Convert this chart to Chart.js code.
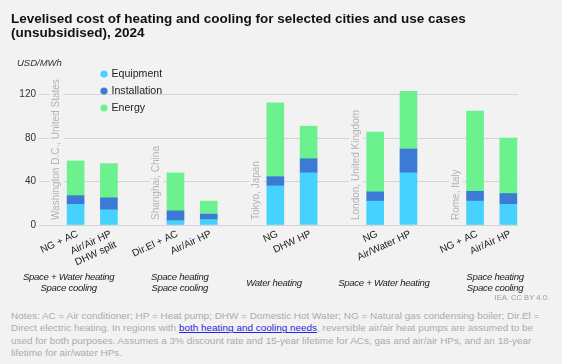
<!DOCTYPE html>
<html>
<head>
<meta charset="utf-8">
<script src="https://cdn.jsdelivr.net/npm/chart.js@4.4.1/dist/chart.umd.min.js"></script>
<style>
  html, body { margin: 0; padding: 0; background: #f2f2f2; }
  #wrap { position: relative; width: 562px; height: 364px; overflow: hidden; }
  #box { position: absolute; left: 0; top: 0; width: 562px; height: 305px; }
  #notes {
    position: absolute; left: 11px; top: 310px;
    font: 9.95px 'Liberation Sans', Arial, sans-serif; color: #ababab;
    line-height: 12.4px; white-space: nowrap;
  }
  #notes a { color: #2626d9; }
</style>
</head>
<body>
<div id="wrap">
  <div id="box"><canvas id="lcoeChart"></canvas></div>
  <div id="notes">
    Notes: AC = Air conditioner; HP = Heat pump; DHW = Domestic Hot Water; NG = Natural gas condensing boiler; Dir.El =<br>
    Direct electric heating. In regions with <a href="#">both heating and cooling needs</a>, reversible air/air heat pumps are assumed to be<br>
    used for both purposes. Assumes a 3% discount rate and 15-year lifetime for ACs, gas and air/air HPs, and an 18-year<br>
    lifetime for air/water HPs.
  </div>
</div>
<script>
// values (USD/MWh)
const techLabels = ['NG + AC', ['Air/Air HP', 'DHW split'], 'Dir.El + AC', 'Air/Air HP', 'NG', 'DHW HP', 'NG', 'Air/Water HP', 'NG + AC', 'Air/Air HP'];
const cities = ['Washington D.C., United States', 'Shanghai, China', 'Tokyo, Japan', 'London, United Kingdom', 'Rome, Italy'];
const useCases = [['Space + Water heating', 'Space cooling'], ['Space heating', 'Space cooling'], ['Water heating'], ['Space + Water heating'], ['Space heating', 'Space cooling']];
const equipment = [19, 14, 4, 5, 36, 48, 22, 48, 22, 19];
const installation = [8, 11, 9, 5, 8.5, 13, 8.5, 22, 9, 10];
const energy = [32, 31.5, 35, 12, 68, 30, 55, 53, 74, 51];
const yTicks = [0, 40, 80, 120];

// two bars per city, one empty slot between cities
const slot = i => i + Math.floor(i / 2);
const useCaseAt = [-0.21, 3.13, 5.96, 9.26, 12.6];

const BG = '#f2f2f2';
const SANS = "'Liberation Sans', Arial, sans-serif";

const toPoints = arr => arr.map((v, i) => ({ x: slot(i), y: v }));

const lcoeExtras = {
  id: 'lcoeExtras',
  beforeDatasetsDraw(chart) {
    const { ctx, scales: { x, y } } = chart;
    ctx.save();
    ctx.font = '10px ' + SANS;
    ctx.textBaseline = 'middle';
    ctx.textAlign = 'left';
    cities.forEach((name, c) => {
      const px = x.getPixelForValue(slot(c * 2) - 0.57);
      const bottom = y.getPixelForValue(0) - 5;
      const w = ctx.measureText(name).width;
      ctx.fillStyle = BG;
      ctx.fillRect(px - 7, bottom - w - 2, 14, w + 4);
      ctx.save();
      ctx.translate(px, bottom);
      ctx.rotate(-Math.PI / 2);
      ctx.fillStyle = '#b2b2b2';
      ctx.fillText(name, 0, 0);
      ctx.restore();
    });
    ctx.restore();
  },
  afterDraw(chart) {
    const { ctx, scales: { x } } = chart;
    ctx.save();
    // unit
    ctx.font = 'italic 9.5px ' + SANS;
    ctx.fillStyle = '#333';
    ctx.textBaseline = 'middle';
    ctx.textAlign = 'left';
    ctx.fillText('USD/MWh', 17, 63);

    // legend
    ctx.font = '10.6px ' + SANS;
    chart.data.datasets.forEach((ds, i) => {
      const cy = 74 + i * 17;
      ctx.fillStyle = ds.backgroundColor;
      ctx.beginPath();
      ctx.arc(104, cy, 3.6, 0, Math.PI * 2);
      ctx.fill();
      ctx.fillStyle = '#222';
      ctx.fillText(ds.label, 111.5, cy);
    });

    // use case labels under each city
    ctx.font = 'italic 9.6px ' + SANS;
    ctx.letterSpacing = '-0.3px';
    ctx.textAlign = 'center';
    ctx.fillStyle = '#222';
    useCases.forEach((lines, g) => {
      const px = x.getPixelForValue(useCaseAt[g]);
      const y0 = 283 - (lines.length - 1) * 5.2;
      lines.forEach((t, k) => ctx.fillText(t, px, y0 + k * 10.4));
    });
    ctx.letterSpacing = '0px';

    // source
    ctx.font = '7.6px ' + SANS;
    ctx.fillStyle = '#9a9a9a';
    ctx.textAlign = 'right';
    ctx.fillText('IEA. CC BY 4.0.', 549, 298);
    ctx.restore();
  }
};

new Chart(document.getElementById('lcoeChart'), {
  type: 'bar',
  data: {
    datasets: [
      { label: 'Equipment', data: toPoints(equipment), backgroundColor: '#47d2fd', barThickness: 17 },
      { label: 'Installation', data: toPoints(installation), backgroundColor: '#3c7ad5', barThickness: 17 },
      { label: 'Energy', data: toPoints(energy), backgroundColor: '#6bf28f', barThickness: 17 }
    ]
  },
  options: {
    responsive: true, maintainAspectRatio: false, animation: false,
    layout: { padding: { left: 11, right: 44, top: 0, bottom: 10 } },
    plugins: {
      legend: { display: false },
      tooltip: { enabled: false },
      title: {
        display: true, align: 'start',
        text: ['Levelised cost of heating and cooling for selected cities and use cases', '(unsubsidised), 2024'],
        color: '#111',
        font: { family: SANS, size: 13.5, weight: 'bold', lineHeight: 1.05 },
        padding: { top: 12, bottom: 32.6 }
      }
    },
    scales: {
      x: {
        type: 'linear', stacked: true, offset: false, min: -1.1, max: 13.29,
        grid: { display: false, offset: false }, border: { display: false },
        afterBuildTicks: ax => { ax.ticks = techLabels.map((_, i) => ({ value: slot(i) })); },
        afterFit: ax => { ax.height = 70; },
        ticks: {
          autoSkip: false, minRotation: 25, maxRotation: 25, padding: -5, labelOffset: 2,
          color: '#222', font: { family: SANS, size: 10 },
          callback: (v, i) => techLabels[i]
        }
      },
      y: {
        stacked: true, min: 0, max: 140,
        border: { display: false },
        grid: { color: '#d4d4d4', drawTicks: false },
        afterBuildTicks: ax => { ax.ticks = yTicks.map(v => ({ value: v })); },
        afterFit: ax => { ax.width = 28; },
        ticks: { padding: 3, color: '#333', font: { family: SANS, size: 10 } }
      }
    }
  },
  plugins: [lcoeExtras]
});
</script>
</body>
</html>
